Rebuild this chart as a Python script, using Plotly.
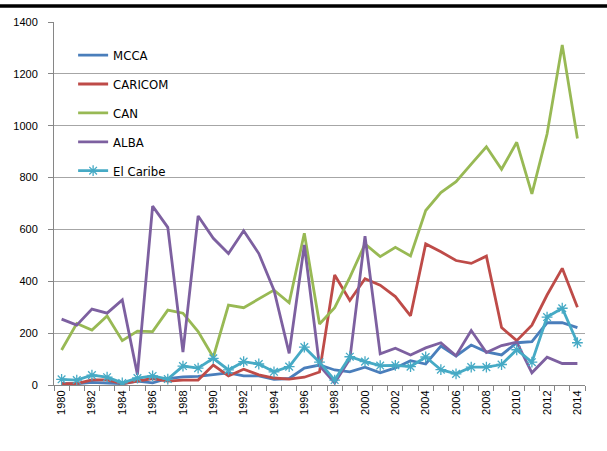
import plotly.graph_objects as go

years = list(range(1980, 2015))

mcca = [5, 5, 10, 8, 5, 15, 8, 25, 31, 33, 40, 47, 35, 35, 22, 25, 65, 77, 58, 51,
        69, 47, 66, 94, 81, 150, 112, 154, 128, 116, 163, 167, 240, 240, 221]
caricom = [5, 5, 20, 20, 5, 15, 25, 15, 19, 19, 77, 35, 61, 39, 27, 23, 30, 50, 424, 326,
           410, 385, 341, 267, 544, 514, 480, 469, 497, 222, 171, 231, 347, 450, 300]
can = [135, 237, 212, 266, 171, 208, 206, 289, 277, 206, 107, 308, 298, 331, 366, 317, 585, 235, 298, 415,
       544, 495, 531, 498, 673, 742, 784, 852, 919, 832, 936, 737, 968, 1311, 951]
alba = [254, 231, 293, 277, 328, 40, 690, 608, 127, 652, 566, 507, 595, 507, 366, 122, 540, 75, 8, 100,
        574, 120, 142, 116, 143, 163, 113, 210, 125, 152, 165, 47, 107, 83, 83]
caribe = [22, 19, 38, 30, 8, 27, 35, 23, 73, 65, 103, 58, 90, 81, 51, 71, 146, 88, 19, 109,
          90, 75, 76, 71, 108, 59, 43, 69, 69, 79, 136, 88, 262, 296, 163]

names = ["MCCA", "CARICOM", "CAN", "ALBA", "El Caribe"]
series = [mcca, caricom, can, alba, caribe]
colors = ["#4a7ebb", "#be4b48", "#98b954", "#7d60a0", "#46aac5"]

fig = go.Figure()
for i, (n, s, c) in enumerate(zip(names, series, colors)):
    if n == "El Caribe":
        kw = dict(mode="lines+markers",
                  marker=dict(symbol="asterisk-open", size=9, color=c,
                              line=dict(color=c, width=1.3)))
    else:
        kw = dict(mode="lines")
    fig.add_trace(go.Scatter(x=years, y=s, name=n, line=dict(color=c, width=2.8),
                             legendgroup=f"g{i}", **kw))

fig.update_layout(
    width=607, height=451,
    margin=dict(l=54, r=22, t=22, b=66),
    paper_bgcolor="white", plot_bgcolor="white",
    font=dict(family="Liberation Sans, Arial, sans-serif", size=11, color="#000000"),
    showlegend=True,
    legend=dict(x=0.036, y=0.95, xanchor="left", yanchor="top",
                bgcolor="rgba(0,0,0,0)", itemwidth=30, tracegroupgap=9,
                font=dict(family="DejaVu Sans Condensed, Liberation Sans, sans-serif",
                          size=13, color="#000000")),
)
# thick black rule across the top of the image
fig.add_shape(type="rect", xref="paper", yref="paper",
              x0=-0.11, x1=1.05, y0=1.0395, y1=1.049,
              fillcolor="black", line=dict(width=0), layer="above")
fig.update_xaxes(range=[1979.5, 2014.5], tickmode="array",
                 tickvals=list(range(1980, 2015, 2)),
                 ticktext=[str(y) for y in range(1980, 2015, 2)],
                 tickangle=-90, ticks="", showgrid=False, zeroline=False,
                 showline=True, linecolor="#868686", linewidth=1,
                 minor=dict(ticks="outside", tick0=1979.5, dtick=1, ticklen=5,
                            tickcolor="#868686", showgrid=False))
fig.update_yaxes(range=[0, 1400], dtick=200, ticks="outside", ticklen=5,
                 ticklabelstandoff=8,
                 tickcolor="#868686", showline=True, linecolor="#868686", linewidth=1,
                 gridcolor="#a6a6a6", gridwidth=1, zeroline=False)

fig.write_html("out.html", config={"displayModeBar": False},
               post_script="document.body.style.margin='0';")
